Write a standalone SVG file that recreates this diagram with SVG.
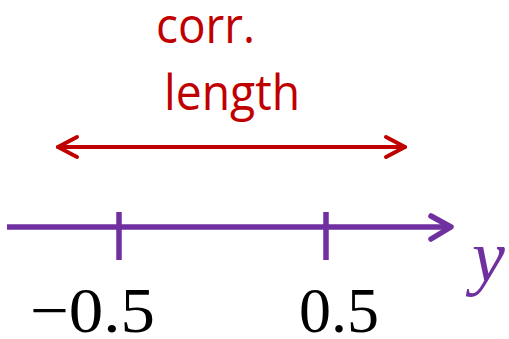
<svg xmlns="http://www.w3.org/2000/svg" width="509" height="339" viewBox="0 0 509 339">
<style>
.red{stroke:#C00000;stroke-width:4;fill:none;stroke-linecap:round;stroke-linejoin:round}
.pur{stroke:#7030A0;stroke-width:5.5;fill:none;stroke-linejoin:round}
.lbl{font-family:"Open Sans","Liberation Sans",sans-serif;fill:#C00000;font-size:49px}
.num{font-family:"Liberation Serif",serif;fill:#000;font-size:64px}
</style>
<rect width="509" height="339" fill="#fff"/>
<g id="corr-label">
<text class="lbl" x="156" y="43" textLength="99" lengthAdjust="spacingAndGlyphs">corr.</text>
<text class="lbl" x="164" y="110" textLength="136" lengthAdjust="spacingAndGlyphs">length</text>
</g>
<g id="connectors">
<g id="corr-arrow">
<line class="red" x1="58" y1="147" x2="405" y2="147"/>
<polyline class="red" points="77,137 58,147 77,157"/>
<polyline class="red" points="386,137 405,147 386,157"/>
</g>
<g id="y-axis">
<line class="pur" x1="7" y1="227" x2="451" y2="227"/>
<polyline class="pur" points="431,216 451,227 431,239" stroke-linecap="round"/>
<line class="pur" x1="119" y1="212" x2="119" y2="260"/>
<line class="pur" x1="326" y1="212" x2="326" y2="260"/>
</g>
</g>
<g id="y-label">
<text x="472" y="281" font-family="Liberation Serif,serif" font-style="italic" font-size="74" fill="#7030A0">y</text>
</g>
<g id="tick-labels">
<text class="num" x="30" y="332" textLength="125" lengthAdjust="spacingAndGlyphs">−0.5</text>
<text class="num" x="339" y="332" text-anchor="middle">0.5</text>
</g>
</svg>
